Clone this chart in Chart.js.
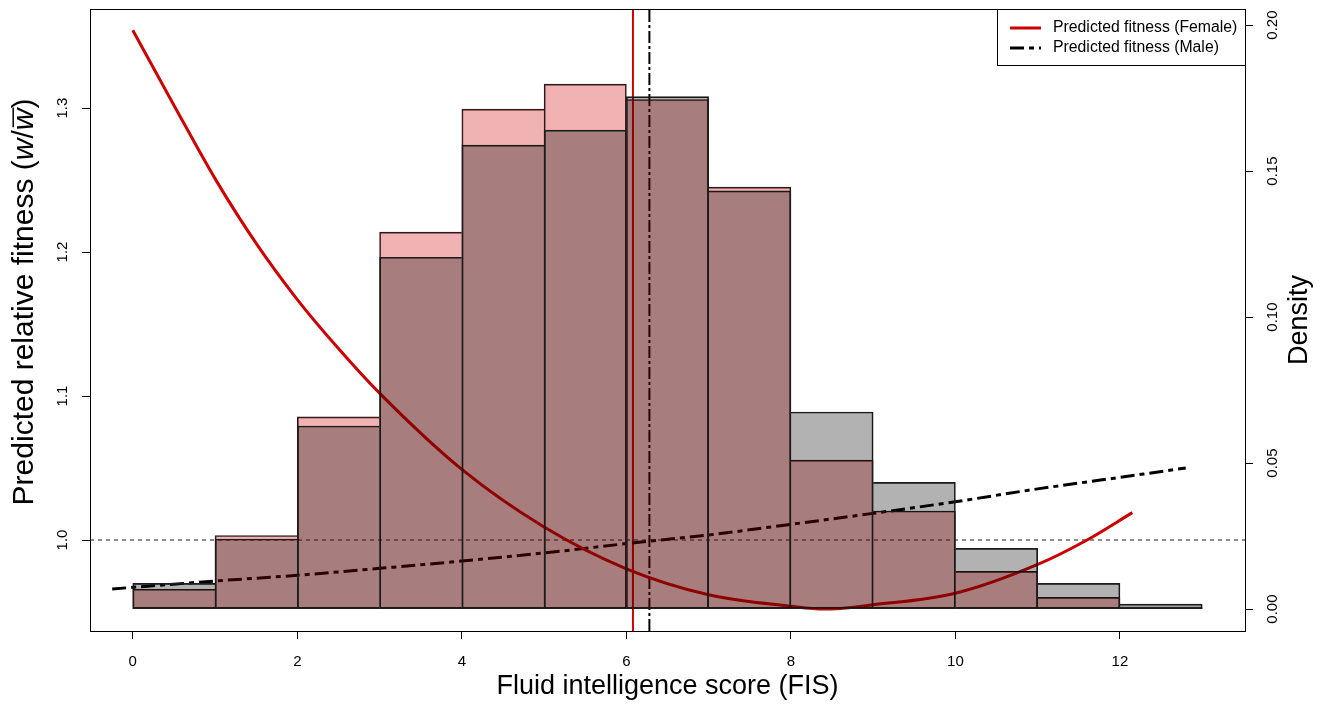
<!DOCTYPE html>
<html lang="en">
<head>
    <meta charset="UTF-8">
    <title>Predicted relative fitness by fluid intelligence score</title>
    <script src="https://cdn.jsdelivr.net/npm/chart.js"></script>
    <style>
        html, body { margin: 0; padding: 0; background: #fff; }
    </style>
</head>
<body>
    <canvas id="fitnessChart" width="1326" height="707"></canvas>

    <script>
        // histogram bins (FIS) and densities
        const binEdges = [0, 1, 2, 3, 4, 5, 6, 7, 8, 9, 10, 11, 12, 13];
        const femaleDensity = [0.0068, 0.0252, 0.0658, 0.1291, 0.1712, 0.1798, 0.1745, 0.1445, 0.0510, 0.0336, 0.0129, 0.0040, 0.0007];
        const maleDensity = [0.0088, 0.0240, 0.0627, 0.1205, 0.1589, 0.1640, 0.1755, 0.1432, 0.0675, 0.0434, 0.0208, 0.0088, 0.0017];

        // predicted relative fitness curves
        const femaleFis = [0, 0.5, 1, 1.5, 2, 2.5, 3, 4, 5, 6, 7, 8, 8.4, 9, 10, 11, 11.6, 12.15];
        const femaleFitness = [1.354, 1.302, 1.251, 1.206, 1.167, 1.133, 1.102, 1.049, 1.009, 0.980, 0.962, 0.954, 0.952, 0.955, 0.963, 0.983, 1.000, 1.019];
        const maleFis = [-0.25, 1, 2, 3, 4, 5, 6, 7, 8, 9, 10, 11, 12, 12.8];
        const maleFitness = [0.966, 0.9715, 0.9755, 0.9803, 0.9854, 0.991, 0.9975, 1.0035, 1.0109, 1.0185, 1.0266, 1.0355, 1.0435, 1.050];

        // mean FIS per sex and the reference fitness line
        const femaleMeanFis = 6.08;
        const maleMeanFis = 6.28;
        const fitnessRef = 1.0;

        // axes
        const xRange = [-0.52, 13.52];
        const fitnessRange = [0.9368, 1.3688];
        const densityRange = [-0.0075, 0.2055];
        const xTicks = [0, 2, 4, 6, 8, 10, 12];
        const fitnessTicks = [1.0, 1.1, 1.2, 1.3];
        const densityTicks = [0, 0.05, 0.10, 0.15, 0.20];
        const legendLabels = ['Predicted fitness (Female)', 'Predicted fitness (Male)'];

        const fontFamily = '"Liberation Sans", Arial, Helvetica, sans-serif';

        const pts = (xs, ys) => xs.map((x, i) => ({ x: x, y: ys[i] }));
        const bins = vals => vals.map((v, i) => ({ x: (binEdges[i] + binEdges[i + 1]) / 2, y: v }));

        // draw each shared bar edge only once (taller bar owns it)
        const edgeWidths = vals => c => {
            const i = c.dataIndex, v = vals[i];
            const prev = i > 0 ? vals[i - 1] : -1;
            const next = i < vals.length - 1 ? vals[i + 1] : -1;
            return { top: 1, bottom: 1, left: prev < v ? 1 : 0, right: next <= v ? 1 : 0 };
        };

        function rotText(ctx, txt, x, y) {
            ctx.save();
            ctx.translate(x, y);
            ctx.rotate(-Math.PI / 2);
            ctx.fillText(txt, 0, 0);
            ctx.restore();
        }

        // R-style box, rotated axis text and legend
        const rDecorations = {
            id: 'rDecorations',
            afterDraw(chart) {
                const { ctx, chartArea: a, scales } = chart;
                ctx.save();
                ctx.setLineDash([]);
                ctx.strokeStyle = '#000';
                ctx.lineWidth = 1;
                ctx.strokeRect(Math.round(a.left) + 0.5, Math.round(a.top) + 0.5,
                    Math.round(a.right - a.left), Math.round(a.bottom - a.top));

                ctx.fillStyle = '#000';
                ctx.font = '15px ' + fontFamily;
                ctx.textAlign = 'center';
                ctx.textBaseline = 'middle';
                fitnessTicks.forEach(v => rotText(ctx, v.toFixed(1), a.left - 27.5, scales.y.getPixelForValue(v)));
                densityTicks.forEach(v => rotText(ctx, v.toFixed(2), a.right + 28, scales.y2.getPixelForValue(v)));

                // left axis title with italic w / w-bar
                const fs = 30;
                const parts = [
                    { t: 'Predicted relative fitness (', it: false },
                    { t: 'w', it: true },
                    { t: '/', it: false },
                    { t: 'w', it: true, bar: true },
                    { t: ')', it: false }
                ];
                const fontOf = p => (p.it ? 'italic ' : '') + fs + 'px ' + fontFamily;
                let total = 0;
                parts.forEach(p => { ctx.font = fontOf(p); p.w = ctx.measureText(p.t).width; total += p.w; });
                ctx.save();
                ctx.translate(a.left - 57, 302);
                ctx.rotate(-Math.PI / 2);
                ctx.textAlign = 'left';
                ctx.textBaseline = 'alphabetic';
                let u = -total / 2;
                parts.forEach(p => {
                    ctx.font = fontOf(p);
                    ctx.fillText(p.t, u, 0);
                    if (p.bar) {
                        ctx.lineWidth = 1.5;
                        ctx.beginPath();
                        ctx.moveTo(u + 3, -0.66 * fs);
                        ctx.lineTo(u + p.w + 1, -0.66 * fs);
                        ctx.stroke();
                    }
                    u += p.w;
                });
                ctx.restore();

                // right axis title
                ctx.font = '27px ' + fontFamily;
                ctx.textAlign = 'center';
                ctx.textBaseline = 'alphabetic';
                rotText(ctx, 'Density', a.right + 62, (a.top + a.bottom) / 2);

                // legend
                const lw = 248, lh = 56;
                const lx = a.right - lw, ly = a.top;
                ctx.fillStyle = '#fff';
                ctx.fillRect(lx, ly, lw, lh);
                ctx.lineWidth = 1;
                ctx.strokeStyle = '#000';
                ctx.strokeRect(Math.round(lx) + 0.5, Math.round(ly) + 0.5, lw, lh);
                const rows = [chart.data.datasets[2], chart.data.datasets[3]];
                rows.forEach((ds, i) => {
                    const ry = ly + 19 + i * 20;
                    ctx.strokeStyle = ds.borderColor;
                    ctx.lineWidth = ds.borderWidth;
                    ctx.setLineDash(ds.borderDash || []);
                    ctx.beginPath();
                    ctx.moveTo(lx + 13, ry);
                    ctx.lineTo(lx + 44, ry);
                    ctx.stroke();
                    ctx.setLineDash([]);
                    ctx.fillStyle = '#000';
                    ctx.font = '15.8px ' + fontFamily;
                    ctx.textAlign = 'left';
                    ctx.textBaseline = 'middle';
                    ctx.fillText(legendLabels[i], lx + 56, ry);
                });
                ctx.restore();
            }
        };

        const ctx = document.getElementById('fitnessChart').getContext('2d');

        new Chart(ctx, {
            type: 'bar',
            data: {
                datasets: [
                    {
                        type: 'bar', label: 'Male', data: bins(maleDensity), yAxisID: 'y2',
                        backgroundColor: 'rgba(0,0,0,0.3)', borderColor: '#1e1e1e',
                        borderWidth: edgeWidths(maleDensity), borderSkipped: false,
                        grouped: false, barPercentage: 1, categoryPercentage: 1, order: 0
                    },
                    {
                        type: 'bar', label: 'Female', data: bins(femaleDensity), yAxisID: 'y2',
                        backgroundColor: 'rgba(205,0,0,0.3)', borderColor: '#1e1e1e',
                        borderWidth: edgeWidths(femaleDensity), borderSkipped: false,
                        grouped: false, barPercentage: 1, categoryPercentage: 1, order: 1
                    },
                    {
                        type: 'line', label: legendLabels[0], data: pts(femaleFis, femaleFitness), yAxisID: 'y',
                        borderColor: '#cd0000', borderWidth: 3, pointRadius: 0,
                        cubicInterpolationMode: 'monotone', order: 2
                    },
                    {
                        type: 'line', label: legendLabels[1], data: pts(maleFis, maleFitness), yAxisID: 'y',
                        borderColor: '#000', borderWidth: 3, borderDash: [14, 5, 5, 5], pointRadius: 0,
                        cubicInterpolationMode: 'monotone', order: 3
                    },
                    {
                        type: 'line', label: 'Female mean', yAxisID: 'y',
                        data: [{ x: femaleMeanFis, y: fitnessRange[0] }, { x: femaleMeanFis, y: fitnessRange[1] }],
                        borderColor: '#cd0000', borderWidth: 2, pointRadius: 0, order: 4
                    },
                    {
                        type: 'line', label: 'Male mean', yAxisID: 'y',
                        data: [{ x: maleMeanFis, y: fitnessRange[0] }, { x: maleMeanFis, y: fitnessRange[1] }],
                        borderColor: '#000', borderWidth: 2, borderDash: [12, 3, 3, 3], pointRadius: 0, order: 5
                    },
                    {
                        type: 'line', label: 'Reference', yAxisID: 'y',
                        data: [{ x: xRange[0], y: fitnessRef }, { x: xRange[1], y: fitnessRef }],
                        borderColor: '#1a1a1a', borderWidth: 1, borderDash: [4, 4], pointRadius: 0, order: 6
                    }
                ]
            },
            options: {
                responsive: false,
                animation: false,
                layout: { padding: { top: 9, left: 0, right: 0, bottom: 0 } },
                plugins: {
                    legend: { display: false },
                    tooltip: { enabled: false }
                },
                scales: {
                    x: {
                        type: 'linear', position: 'bottom', min: xRange[0], max: xRange[1], offset: false,
                        afterBuildTicks: s => { s.ticks = xTicks.map(v => ({ value: v })); },
                        afterFit: s => { s.height = 76; },
                        grid: { drawOnChartArea: false, drawTicks: true, tickLength: 8, color: '#000', offset: false },
                        border: { display: false },
                        ticks: { padding: 14, color: '#000', maxRotation: 0, autoSkip: false, font: { family: fontFamily, size: 15 } },
                        title: {
                            display: true, text: 'Fluid intelligence score (FIS)', color: '#000',
                            font: { family: fontFamily, size: 27 }, padding: { top: 0, bottom: 4 }
                        }
                    },
                    y: {
                        type: 'linear', position: 'left', min: fitnessRange[0], max: fitnessRange[1],
                        afterBuildTicks: s => { s.ticks = fitnessTicks.map(v => ({ value: v })); },
                        afterFit: s => { s.width = 90; },
                        grid: { drawOnChartArea: false, drawTicks: true, tickLength: 8, color: '#000' },
                        border: { display: false },
                        ticks: { display: false }
                    },
                    y2: {
                        type: 'linear', position: 'right', min: densityRange[0], max: densityRange[1],
                        afterBuildTicks: s => { s.ticks = densityTicks.map(v => ({ value: v })); },
                        afterFit: s => { s.width = 81; },
                        grid: { drawOnChartArea: false, drawTicks: true, tickLength: 8, color: '#000' },
                        border: { display: false },
                        ticks: { display: false }
                    }
                }
            },
            plugins: [rDecorations]
        });
    </script>
</body>
</html>
